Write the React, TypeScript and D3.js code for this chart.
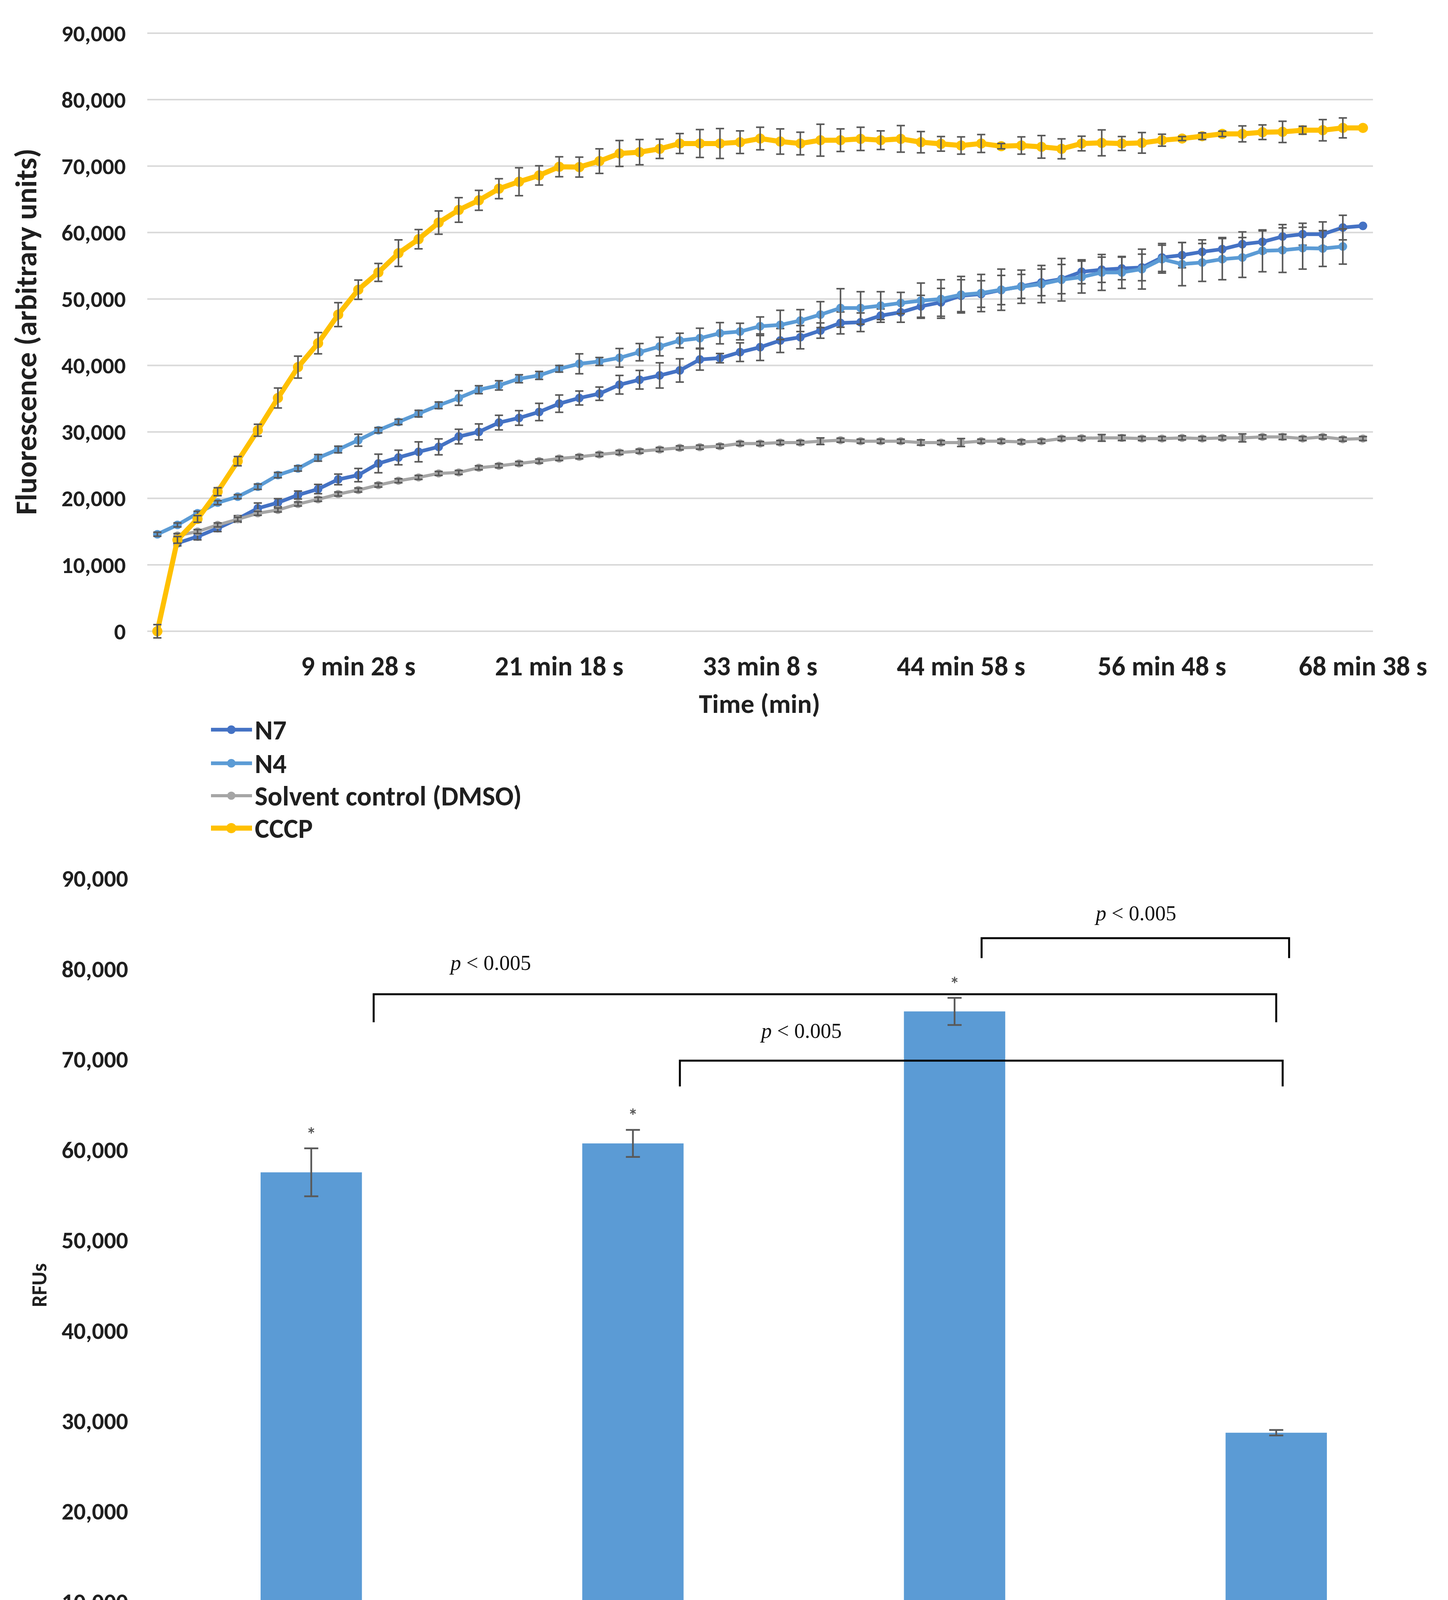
import React from "react";
import * as d3 from "d3";

// ---------- DATA: top chart (time course) ----------
const timeLabels = ["9 min 28 s", "21 min 18 s", "33 min 8 s", "44 min 58 s", "56 min 48 s", "68 min 38 s"];
const timeLabelIndex = [10, 20, 30, 40, 50, 60];
const nPoints = 61;

const n7Values: (number | null)[] = [null, 13250, 14250, 15500, 16900, 18500, 19350, 20500, 21400, 22850, 23500, 25250, 26150, 27000, 27750, 29300, 30000, 31400, 32100, 33000, 34250, 35100, 35750, 37100, 37850, 38500, 39250, 40900, 41100, 42000, 42750, 43750, 44250, 45250, 46400, 46500, 47500, 48000, 48900, 49500, 50500, 50750, 51350, 51900, 52500, 53000, 54100, 54400, 54600, 54750, 56250, 56600, 57100, 57500, 58250, 58600, 59400, 59750, 59750, 60750, 61000];
const n7Errors = [0, 400, 500, 500, 500, 800, 600, 600, 700, 800, 1000, 1400, 1100, 1500, 1200, 1100, 1200, 1100, 1100, 1300, 1300, 1050, 1000, 1400, 1400, 1900, 1750, 1600, 700, 1400, 2000, 1800, 1750, 1150, 1650, 1400, 1000, 1500, 1650, 2100, 2400, 2000, 2200, 1800, 2000, 2200, 1800, 1900, 1700, 2000, 2100, 1900, 1800, 1750, 1850, 1650, 1800, 1650, 1850, 1850, 0];

const n4Values: (number | null)[] = [14600, 16000, 17750, 19350, 20250, 21750, 23500, 24500, 26100, 27350, 28750, 30250, 31500, 32750, 34000, 35100, 36350, 37000, 38000, 38500, 39500, 40250, 40600, 41150, 42000, 42850, 43750, 44100, 44850, 45100, 45900, 46100, 46750, 47650, 48650, 48650, 49000, 49400, 49750, 50000, 50650, 50900, 51400, 51850, 52250, 52900, 53300, 54000, 54000, 54500, 56000, 55250, 55500, 56000, 56250, 57250, 57350, 57650, 57600, 57900, null];
const n4Errors = [300, 300, 300, 300, 300, 400, 400, 400, 500, 500, 900, 400, 400, 500, 500, 1100, 600, 700, 600, 600, 500, 1500, 600, 1400, 1300, 1400, 1100, 1500, 1600, 1250, 1400, 2200, 1650, 1950, 2900, 2450, 2100, 1600, 2650, 2900, 2750, 2800, 3100, 2500, 2800, 3200, 2400, 2700, 2400, 3000, 2100, 3250, 2850, 3100, 3000, 3150, 3350, 3150, 2700, 2650, 0];

const dmsoValues: (number | null)[] = [null, 14400, 15000, 16000, 16850, 17750, 18250, 19150, 19850, 20650, 21250, 22000, 22650, 23150, 23750, 23900, 24600, 24900, 25250, 25600, 26000, 26250, 26600, 26900, 27100, 27350, 27600, 27700, 27850, 28250, 28250, 28400, 28400, 28600, 28750, 28600, 28600, 28600, 28400, 28400, 28400, 28600, 28600, 28500, 28600, 29000, 29050, 29100, 29100, 29000, 29000, 29100, 29000, 29100, 29100, 29250, 29250, 29000, 29250, 28900, 29000];
const dmsoErrors = [0, 300, 300, 300, 300, 300, 300, 300, 300, 300, 300, 300, 300, 300, 300, 300, 300, 300, 300, 300, 300, 300, 300, 300, 300, 300, 300, 300, 300, 300, 300, 300, 300, 500, 300, 300, 300, 300, 400, 300, 600, 300, 300, 300, 300, 300, 300, 500, 400, 300, 300, 300, 300, 300, 600, 300, 400, 300, 300, 300, 300];

const cccpValues: (number | null)[] = [0, 13750, 16900, 21000, 25600, 30250, 35100, 39750, 43350, 47650, 51400, 54000, 56900, 59000, 61500, 63400, 64850, 66600, 67650, 68600, 69900, 69850, 70750, 71900, 72100, 72600, 73400, 73400, 73400, 73600, 74150, 73700, 73400, 73900, 73900, 74100, 73900, 74100, 73600, 73350, 73100, 73400, 73000, 73100, 72900, 72600, 73400, 73500, 73400, 73500, 73900, 74150, 74500, 74850, 74850, 75100, 75150, 75400, 75400, 75750, 75750];
const cccpErrors = [1000, 500, 500, 600, 700, 900, 1500, 1650, 1600, 1800, 1450, 1350, 2000, 1450, 1750, 1850, 1500, 1500, 2100, 1450, 1500, 1500, 1850, 1950, 1900, 1450, 1500, 2100, 2250, 1700, 1700, 1900, 1700, 2400, 1700, 1750, 1400, 2000, 1600, 1100, 1300, 1350, 400, 1300, 1700, 1500, 1100, 1950, 1050, 1550, 900, 300, 500, 400, 1200, 1100, 1600, 600, 1600, 1500, 0];

const seriesNames = ["N7", "N4", "Solvent control (DMSO)", "CCCP"];
const seriesColors = ["#4472C4", "#5B9BD5", "#A5A5A5", "#FFC000"];
const seriesValues = [n7Values, n4Values, dmsoValues, cccpValues];
const seriesErrors = [n7Errors, n4Errors, dmsoErrors, cccpErrors];
const seriesWidths = [9.5, 9.5, 8, 13];
const seriesRadii = [11, 11, 10.5, 13];

const topTicks = [0, 10000, 20000, 30000, 40000, 50000, 60000, 70000, 80000, 90000];

// ---------- DATA: bottom chart (end point bars) ----------
const barCategories = ["N4", "N7", "CCCP", "DMSO"];
const barValues = [57500, 60700, 75300, 28700];
const barErrors = [2650, 1500, 1500, 300];
const barStars = [true, true, true, false];
const bottomTicks = [0, 10000, 20000, 30000, 40000, 50000, 60000, 70000, 80000, 90000];

const brackets = [
  { from: "N4", fromOff: 0.194, to: "DMSO", toOff: 0.0, level: 77200, drop: 74100, label: "0.005", labelOff: 0.558, labelLevel: 80700 },
  { from: "N7", fromOff: 0.146, to: "DMSO", toOff: 0.02, level: 69850, drop: 67000, label: "0.005", labelOff: 0.524, labelLevel: 73200 },
  { from: "CCCP", fromOff: 0.084, to: "DMSO", toOff: 0.04, level: 83400, drop: 81200, label: "0.005", labelOff: 0.564, labelLevel: 86200 },
];

const FONT = "Carlito, Lato, 'Open Sans', sans-serif";
const SERIF = "'Liberation Serif', 'DejaVu Serif', serif";
const TEXT = "#1f1f1f";
const GRID = "#d9d9d9";
const ERR = "#595959";

export default function App() {
  const W = 3706;
  const H = 4474;

  // top scales
  const xTop = d3.scaleBand<number>().domain(d3.range(nPoints)).range([377, 3514]).padding(0);
  const cx = (i: number) => (xTop(i) as number) + xTop.bandwidth() / 2;
  const yTop = d3.scaleLinear().domain([0, 90000]).range([1616, 85]);

  const lineGen = d3
    .line<number | null>()
    .defined((d) => d != null)
    .x((_, i) => cx(i))
    .y((d) => yTop(d as number));

  // bottom scales
  const xBot = d3.scaleBand<string>().domain(barCategories).range([385, 3678]).padding(0);
  const bw = xBot.bandwidth();
  const bc = (c: string) => (xBot(c) as number) + bw / 2;
  const barW = bw * 0.315;
  const yBot = d3.scaleLinear().domain([0, 90000]).range([4332, 2249]);

  const legendY = [1868, 1954, 2037, 2120];

  return (
    <svg
      width={W}
      height={H}
      viewBox={`0 0 ${W} ${H}`}
      style={{ position: "absolute", left: 0, top: 0, background: "#fff" }}
      fontFamily={FONT}
    >
      <rect x={0} y={0} width={W} height={H} fill="#fff" />

      {/* ---------- TOP CHART ---------- */}
      <g>
        {topTicks.map((t) => (
          <g key={"tg" + t}>
            <line x1={377} x2={3514} y1={yTop(t)} y2={yTop(t)} stroke={GRID} strokeWidth={4} />
            <text x={322} y={yTop(t)} dy="0.35em" textAnchor="end" fontSize={59} fontWeight="bold" fill={TEXT}>
              {d3.format(",")(t)}
            </text>
          </g>
        ))}
        {timeLabels.map((lab, k) => (
          <text key={"tl" + k} x={cx(timeLabelIndex[k])} y={1729} textAnchor="middle" fontSize={70} fontWeight="bold" fill={TEXT}>
            {lab}
          </text>
        ))}
        <text x={1944} y={1825} textAnchor="middle" fontSize={69} fontWeight="bold" fill={TEXT}>
          Time (min)
        </text>
        <text
          transform={`translate(93, 849) rotate(-90)`}
          textAnchor="middle"
          fontSize={77}
          fontWeight="bold"
          fill={TEXT}
        >
          Fluorescence (arbitrary units)
        </text>

        {seriesValues.map((vals, s) => (
          <g key={"s" + s}>
            <path d={lineGen(vals) || ""} fill="none" stroke={seriesColors[s]} strokeWidth={seriesWidths[s]} strokeLinejoin="round" />
            {vals.map((v, i) =>
              v == null ? null : (
                <circle key={"m" + i} cx={cx(i)} cy={yTop(v)} r={seriesRadii[s]} fill={seriesColors[s]} />
              )
            )}
            {vals.map((v, i) => {
              const e = seriesErrors[s][i];
              if (v == null || !e) return null;
              const x = cx(i);
              const y1 = yTop(v + e);
              const y2 = yTop(v - e);
              return (
                <g key={"e" + i} stroke={ERR} strokeWidth={4}>
                  <line x1={x} x2={x} y1={y1} y2={y2} />
                  <line x1={x - 10.5} x2={x + 10.5} y1={y1} y2={y1} />
                  <line x1={x - 10.5} x2={x + 10.5} y1={y2} y2={y2} />
                </g>
              );
            })}
          </g>
        ))}

        {/* legend */}
        {seriesNames.map((name, s) => (
          <g key={"lg" + s}>
            <line x1={540} x2={645} y1={legendY[s]} y2={legendY[s]} stroke={seriesColors[s]} strokeWidth={seriesWidths[s]} />
            <circle cx={592} cy={legendY[s]} r={seriesRadii[s]} fill={seriesColors[s]} />
            <text x={652} y={legendY[s]} dy="0.36em" fontSize={70} fontWeight="bold" fill={TEXT}>
              {name}
            </text>
          </g>
        ))}
      </g>

      {/* ---------- BOTTOM CHART ---------- */}
      <g>
        {bottomTicks.map((t) => (
          <text key={"bt" + t} x={328} y={yBot(t)} dy="0.35em" textAnchor="end" fontSize={61} fontWeight="bold" fill={TEXT}>
            {d3.format(",")(t)}
          </text>
        ))}
        <line x1={385} x2={3678} y1={yBot(0)} y2={yBot(0)} stroke={GRID} strokeWidth={5} />
        <text transform={`translate(100, 3290) rotate(-90)`} textAnchor="middle" dy="0.35em" fontSize={54} fontWeight="bold" fill={TEXT}>
          RFUs
        </text>
        {barCategories.map((c, i) => {
          const x = bc(c);
          const top = yBot(barValues[i]);
          const eTop = yBot(barValues[i] + barErrors[i]);
          const eBot = yBot(barValues[i] - barErrors[i]);
          return (
            <g key={"bar" + c}>
              <rect x={x - barW / 2} y={top} width={barW} height={yBot(0) - top} fill="#5B9BD5" />
              <g stroke={ERR} strokeWidth={4.5}>
                <line x1={x} x2={x} y1={eTop} y2={eBot} />
                <line x1={x - 18} x2={x + 18} y1={eTop} y2={eTop} />
                <line x1={x - 18} x2={x + 18} y1={eBot} y2={eBot} />
              </g>
              {barStars[i] && (
                <text x={x} y={eTop - 45 + 27} textAnchor="middle" fontSize={50} fontWeight="bold" fill={ERR}>
                  *
                </text>
              )}
              <text x={x} y={4416} dy="0.35em" textAnchor="middle" fontSize={62} fontWeight="bold" fill={TEXT}>
                {c}
              </text>
            </g>
          );
        })}

        {brackets.map((b, k) => {
          const x1 = bc(b.from) + b.fromOff * bw;
          const x2 = bc(b.to) + b.toOff * bw;
          const y = yBot(b.level);
          const yd = yBot(b.drop);
          return (
            <g key={"br" + k}>
              <path d={`M${x1},${yd} L${x1},${y} L${x2},${y} L${x2},${yd}`} fill="none" stroke="#000" strokeWidth={5} />
              <text
                x={bc(b.from) + b.labelOff * bw}
                y={yBot(b.labelLevel)}
                dy="0.35em"
                textAnchor="middle"
                fontFamily={SERIF}
                fontSize={54}
                fill="#111"
              >
                <tspan fontStyle="italic">p</tspan>
                {" < " + b.label}
              </text>
            </g>
          );
        })}
      </g>
    </svg>
  );
}
